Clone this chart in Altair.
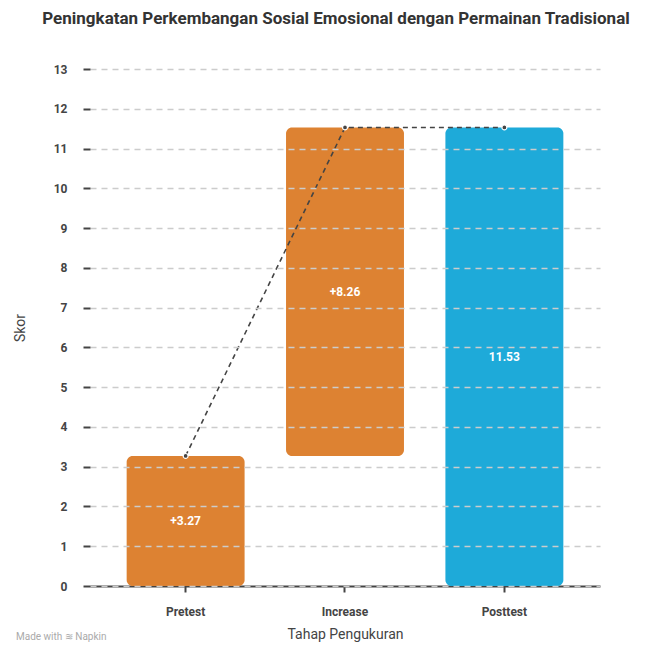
import altair as alt
import pandas as pd

stages = ["Pretest", "Increase", "Posttest"]
starts = [0.0, 3.27, 0.0]
ends = [3.27, 11.53, 11.53]
labels = ["+3.27", "+8.26", "11.53"]
kinds = ["delta", "delta", "total"]
y_ticks = list(range(0, 14))

df = pd.DataFrame({
    "stage": stages,
    "start": starts,
    "end": ends,
    "label": labels,
    "kind": kinds,
})
df["mid"] = (df["start"] + df["end"]) / 2
conn = pd.DataFrame({"stage": stages, "top": ends})

x_axis = alt.Axis(labelAngle=0, labelFontWeight="bold", labelFontSize=12,
                  labelColor="#444", labelPadding=14, titleFontSize=14,
                  titleFontWeight="normal", titleColor="#444", titlePadding=10,
                  domainColor="#444", domainWidth=2, tickColor="#444",
                  tickSize=6, tickWidth=2)
x_scale = alt.Scale(paddingInner=0.26, paddingOuter=0.23)
x_enc = alt.X("stage:N", sort=stages, title="Tahap Pengukuran", scale=x_scale, axis=x_axis)

y_axis = alt.Axis(values=y_ticks, labelFontWeight="bold", labelFontSize=12,
                  labelColor="#444", labelPadding=16, domain=False, tickColor="#444",
                  tickSize=7, tickWidth=2, gridColor="#cccccc", gridDash=[6, 5],
                  gridWidth=1.3, titleFontSize=14, titleFontWeight="normal",
                  titleColor="#444", titlePadding=26, zindex=1, labelOverlap=False)
y_scale = alt.Scale(domain=[0, 13], nice=False)


def y_enc(field):
    return alt.Y(field, scale=y_scale, title="Skor", axis=y_axis)


bars = alt.Chart(df).mark_bar(cornerRadius=6).encode(
    x=x_enc,
    y=y_enc("start:Q"),
    y2="end:Q",
    color=alt.Color("kind:N", scale=alt.Scale(domain=["delta", "total"],
                                              range=["#DD8232", "#1EAAD9"]), legend=None),
)

text = alt.Chart(df).mark_text(color="white", fontSize=12, fontWeight="bold").encode(
    x=x_enc,
    y=y_enc("mid:Q"),
    text="label:N",
)

line = alt.Chart(conn).mark_line(color="#444", strokeDash=[5, 4], strokeWidth=1.6).encode(
    x=x_enc,
    y=y_enc("top:Q"),
)

pts = alt.Chart(conn).mark_point(filled=True, color="#444", size=24, stroke="white",
                                 strokeWidth=1.2, opacity=1).encode(
    x=x_enc,
    y=y_enc("top:Q"),
)

wm = alt.Chart(pd.DataFrame({"t": ["Made with  ≋ Napkin"]})).mark_text(
    align="left", fontSize=10, color="#aaaaaa").encode(
    x=alt.value(-74), y=alt.value(568), text="t:N")

chart = alt.layer(bars, text, line, pts, wm).properties(
    width=510, height=517,
    autosize=alt.AutoSizeParams(type="none"),
    padding={"left": 82, "top": 61, "right": 38, "bottom": 58},
    title=alt.TitleParams("Peningkatan Perkembangan Sosial Emosional dengan Permainan Tradisional",
                          fontSize=17, fontWeight="bold", color="#333", offset=35,
                          anchor="middle", dx=-9),
).configure(font="Roboto").configure_view(stroke=None)

chart.save("out.html", embed_options={"renderer": "svg", "actions": False})
